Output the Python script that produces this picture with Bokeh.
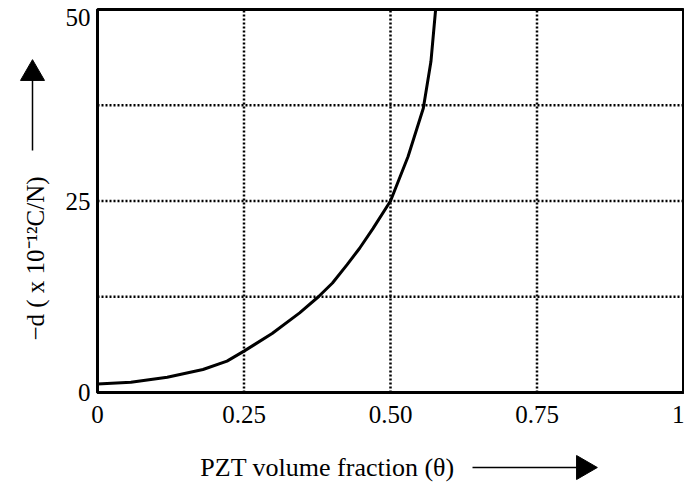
import math
from bokeh.plotting import figure
from bokeh.models import FixedTicker, Label, Arrow, Range1d, BoxAnnotation
from bokeh.embed import file_html
from bokeh.resources import INLINE

# data
theta = [0, 0.057, 0.119, 0.180, 0.221, 0.25, 0.298, 0.345, 0.377, 0.401,
         0.426, 0.447, 0.470, 0.5, 0.530, 0.556, 0.569, 0.577]
d_coef = [1.1, 1.35, 2.0, 3.0, 4.1, 5.4, 7.7, 10.4, 12.5, 14.3,
          16.7, 18.8, 21.4, 25.0, 30.8, 37.1, 43.2, 50.0]

x_min, x_max = 0, 1
y_min, y_max = 0, 50
x_ticks = [0, 0.25, 0.5, 0.75, 1]
x_tick_labels = ["0", "0.25", "0.50", "0.75", "1"]
y_ticks = [0, 25, 50]
y_tick_labels = ["0", "25", "50"]
x_grid = [0.25, 0.5, 0.75]
y_grid = [12.5, 25, 37.5]

FONT = "Liberation Serif"
W, H = 684, 490
# pixel placement of the data box inside the canvas
PX0, PX1 = 97, 683      # x = 0 and x = 1
PY0, PY1 = 392, 9       # y = 0 and y = 50 (from top)
sx = (PX1 - PX0) / (x_max - x_min)
sy = (PY0 - PY1) / (y_max - y_min)

def dx(px):
    return x_min + (px - PX0) / sx

def dy(py):
    return y_min + (PY0 - py) / sy

p = figure(width=W, height=H, output_backend="svg", toolbar_location=None,
           x_range=Range1d(dx(0), dx(W)), y_range=Range1d(dy(H), dy(0)),
           min_border=0, min_border_left=0, min_border_right=0,
           min_border_top=0, min_border_bottom=0)
p.background_fill_color = "white"
p.border_fill_color = "white"
p.outline_line_color = None
p.xgrid.visible = False
p.ygrid.visible = False

p.xaxis.fixed_location = y_min
p.yaxis.fixed_location = x_min
p.xaxis.bounds = (x_min, x_max)
p.yaxis.bounds = (y_min, y_max)
for ax in (p.xaxis[0], p.yaxis[0]):
    ax.axis_line_width = 3
    ax.axis_line_color = "black"
    ax.major_tick_line_color = None
    ax.minor_tick_line_color = None
    ax.major_tick_out = 0
    ax.major_tick_in = 0
    ax.minor_tick_out = 0
    ax.major_label_text_font = FONT
    ax.major_label_text_font_size = "25px"
    ax.major_label_text_color = "black"

p.xaxis.ticker = FixedTicker(ticks=x_ticks)
p.xaxis.major_label_overrides = {t: s for t, s in zip(x_ticks, x_tick_labels)}
p.xaxis.major_label_standoff = 13
p.yaxis.ticker = FixedTicker(ticks=y_ticks)
# the top label sits just below the frame edge in the reference; draw it separately
p.yaxis.major_label_overrides = {t: (s if t != y_max else "") for t, s in zip(y_ticks, y_tick_labels)}
p.yaxis.major_label_standoff = 7
p.add_layout(Label(x=dx(90), y=dy(17), text=y_tick_labels[-1], text_font=FONT,
                   text_font_size="25px", text_align="right", text_baseline="middle",
                   text_color="black"))

# dotted grid inside the data box
p.segment(x0=x_grid, y0=[y_min] * len(x_grid), x1=x_grid, y1=[y_max] * len(x_grid),
          line_color="black", line_width=2.5, line_dash="2 2")
p.segment(x0=[x_min] * len(y_grid), y0=y_grid, x1=[x_max] * len(y_grid), y1=y_grid,
          line_color="black", line_width=2.5, line_dash="2 2")

# box around the data area
p.add_layout(BoxAnnotation(left=x_min, right=x_max, bottom=y_min, top=y_max,
                           fill_color=None, fill_alpha=0, line_color="black",
                           line_alpha=1.0, line_width=3))

p.line(theta, d_coef, line_color="black", line_width=3)

# axis titles with arrows
p.add_layout(Label(x=dx(327), y=dy(467), text="PZT volume fraction (θ)",
                   text_font=FONT, text_font_size="26px", text_align="center",
                   text_baseline="middle", text_color="black"))
p.add_layout(Arrow(x_start=dx(472), y_start=dy(467), x_end=dx(580), y_end=dy(467),
                   line_width=1.5, line_color="black", end=None))
p.scatter(x=[dx(583)], y=[dy(467)], marker="triangle", angle=-math.pi / 2, size=24,
          fill_color="black", line_color="black")

p.add_layout(Label(x=dx(35), y=dy(258), text="−d ( x 10⁻¹²C/N)", angle=math.pi / 2,
                   text_font=FONT, text_font_size="25px", text_align="center",
                   text_baseline="middle", text_color="black"))
p.add_layout(Arrow(x_start=dx(32), y_start=dy(150), x_end=dx(32), y_end=dy(75),
                   line_width=1.5, line_color="black", end=None))
p.scatter(x=[dx(32)], y=[dy(73)], marker="triangle", angle=0, size=24,
          fill_color="black", line_color="black")

open("out.html", "w").write(file_html(p, INLINE))
